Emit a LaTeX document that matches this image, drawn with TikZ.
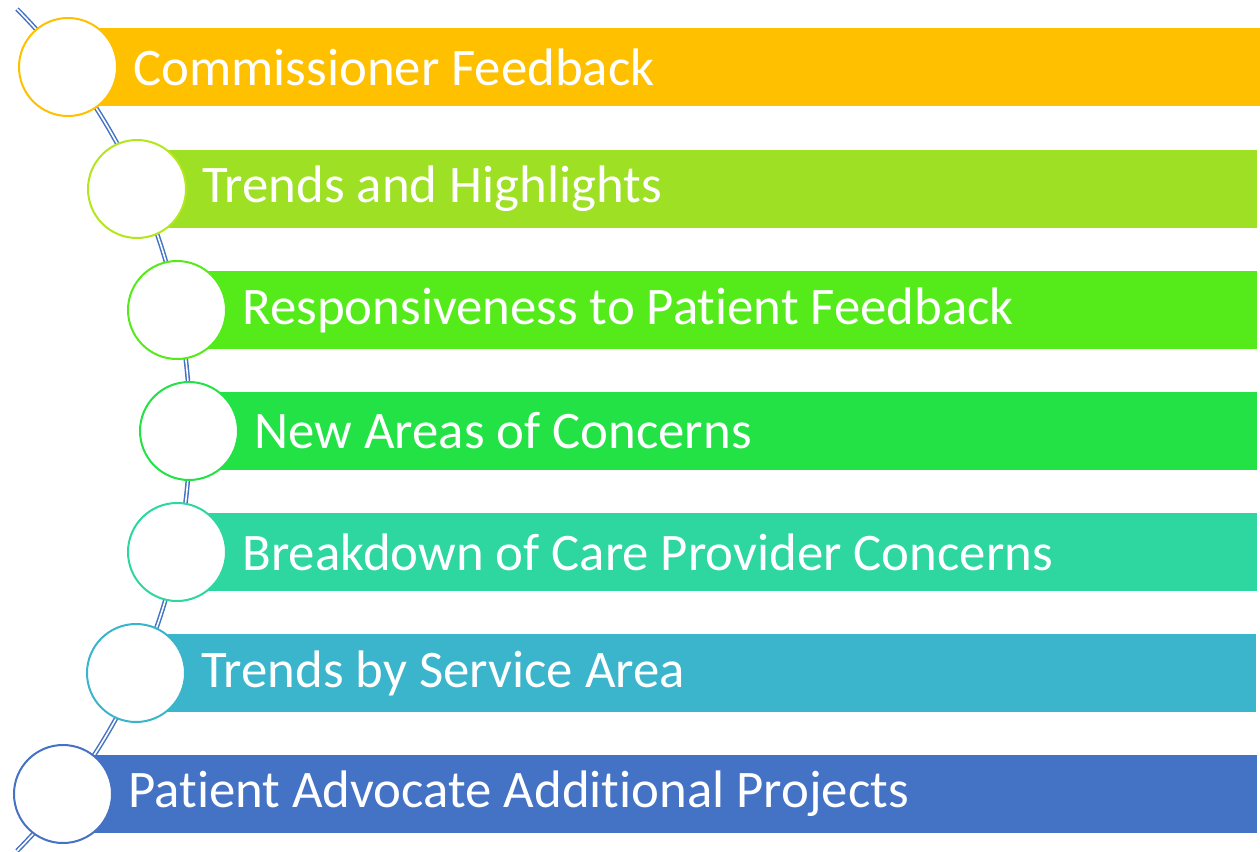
\documentclass[tikz,border=0pt]{standalone}
\usepackage{fontspec}
\setmainfont[Ligatures=NoCommon]{Carlito}
\usepackage{tikz}
\usetikzlibrary{positioning}

\definecolor{rowA}{HTML}{FFC000}
\definecolor{rowB}{HTML}{9DE024}
\definecolor{rowBring}{HTML}{B4E61E}
\definecolor{rowC}{HTML}{55EB1A}
\definecolor{rowD}{HTML}{23E245}
\definecolor{rowE}{HTML}{2ED6A0}
\definecolor{rowF}{HTML}{3AB5CC}
\definecolor{rowG}{HTML}{4472C4}

\tikzset{
  spine/.style={draw=rowG,line width=0.75pt,double=white,double distance=0.8pt},
  bead/.style={circle,draw=#1,fill=white,line width=1pt,minimum size=49pt,inner sep=0pt},
  bar/.style={fill=#1,anchor=west,minimum height=39pt,inner sep=0pt},
  caption/.style={text=white,font=\fontsize{26.4}{31}\selectfont,anchor=west,inner sep=0pt}
}

\begin{document}
\begin{tikzpicture}[x=0.5pt,y=0.5pt]
		\useasboundingbox (0,0) rectangle (1260,-852);
		\coordinate (top) at (17,-9);
		% the curved spine behind the beads
		\draw[spine] (top) arc[start angle=44.67,end angle=-44.67,radius=299.4pt];

		\node[bar=rowA,minimum width=596pt] (b1) at (68,-67) {};
		\node[bar=rowB,minimum width=560pt] (b2) at (137,-189) {};
		\node[bar=rowC,minimum width=540pt] (b3) at (177,-310) {};
		\node[bar=rowD,minimum width=534pt] (b4) at (189,-431) {};
		\node[bar=rowE,minimum width=540pt] (b5) at (177,-552) {};
		\node[bar=rowF,minimum width=560pt] (b6) at (136,-673) {};
		\node[bar=rowG,minimum width=597pt] (b7) at (63,-794) {};

		\node[bead=rowA] (c1) at (68,-67) {};
		\node[bead=rowBring] (c2) at (137,-189) {};
		\node[bead=rowC] (c3) at (177,-310) {};
		\node[bead=rowD] (c4) at (189,-431) {};
		\node[bead=rowE] (c5) at (177,-552) {};
		\node[bead=rowF] (c6) at (136,-673) {};
		\node[bead=rowG] (c7) at (63,-794) {};

		\node[caption,right=7.5pt of c1] {Commissioner Feedback};
		\node[caption,right=7.5pt of c2] {Trends and Highlights};
		\node[caption,right=7.5pt of c3] {Responsiveness to Patient Feedback};
		\node[caption,right=7.5pt of c4] {New Areas of Concerns};
		\node[caption,right=7.5pt of c5] {Breakdown of Care Provider Concerns};
		\node[caption,right=7.5pt of c6] {Trends by Service Area};
		\node[caption,right=7.5pt of c7] {Patient Advocate Additional Projects};
	\end{tikzpicture}
\end{document}
